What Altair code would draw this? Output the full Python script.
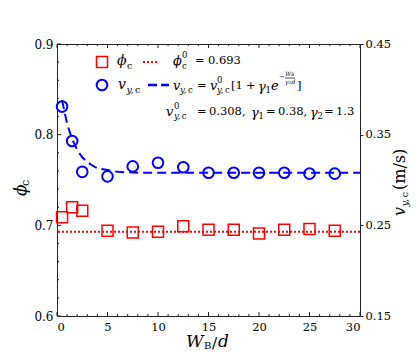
import altair as alt
import pandas as pd

# ---------------- data ----------------
W_over_d = [0.5, 1.5, 2.5, 5, 7.5, 10, 12.5, 15, 17.5, 20, 22.5, 25, 27.5]
phi_c = [0.709, 0.720, 0.716, 0.694, 0.692, 0.693, 0.699, 0.695, 0.695, 0.691, 0.695, 0.696, 0.694]
v_yc = [0.381, 0.343, 0.309, 0.304, 0.315, 0.319, 0.314, 0.308, 0.308, 0.308, 0.308, 0.307, 0.307]
fit_W = [0.5, 1, 1.5, 2, 2.5, 3, 3.5, 4, 5, 6, 8, 10, 15, 20, 25, 30]
fit_v = [0.388, 0.362, 0.345, 0.333, 0.325, 0.320, 0.316, 0.313, 0.311, 0.309, 0.308, 0.308,
         0.308, 0.308, 0.308, 0.308]
phi_c0 = 0.693

x_major = [0, 5, 10, 15, 20, 25, 30]
x_minor = [i for i in range(0, 31) if i % 5 != 0]
left_major = [0.6, 0.7, 0.8, 0.9]
left_minor = [round(0.6 + 0.02 * i, 2) for i in range(16) if i % 5 != 0]
right_ticks = [0.15, 0.25, 0.35, 0.45]

# ---------------- style ----------------
SERIF = "DejaVu Serif"
AX = "#222222"
RED = "#ff0000"
BLUE = "#0000ff"
PW, PH = 303, 272
OX, OY = 57, 44  # absolute page position of the plot origin
NUM = 11.5       # legend number size
SYM = 13         # legend math-symbol size
SUB = 8.5        # legend script size

xs = alt.Scale(domain=[0, 30], nice=False, zero=False)
ls = alt.Scale(domain=[0.6, 0.9], nice=False, zero=False)
rs = alt.Scale(domain=[0.15, 0.45], nice=False, zero=False)

main = pd.DataFrame({"W": W_over_d, "phi": phi_c, "v": v_yc})
fit = pd.DataFrame({"W": fit_W, "v": fit_v})
ONE = pd.DataFrame({"k": [0]})

x_axis = alt.Axis(values=x_major, format="d", ticks=False, domain=False, grid=False,
                  labelFont=SERIF, labelFontSize=11.5, labelPadding=5, labelColor="black",
                  title=None)
left_axis = alt.Axis(orient="left", values=left_major, format=".1f", ticks=False,
                     domain=False, grid=False, labelFont=SERIF, labelFontSize=12,
                     labelPadding=4, labelColor="black", title=None)
right_axis = alt.Axis(orient="right", values=right_ticks, format=".2f", ticks=True,
                      tickSize=3, tickColor=AX, domain=False, grid=False,
                      labelFont=SERIF, labelFontSize=11.5, labelPadding=2,
                      labelColor="black", title=None)

squares = alt.Chart(main).mark_point(
    shape="square", size=121, strokeWidth=1.5, color=RED, filled=False, opacity=1
).encode(
    x=alt.X("W:Q", scale=xs, axis=x_axis),
    y=alt.Y("phi:Q", scale=ls, axis=left_axis),
)

phi0_rule = alt.Chart(pd.DataFrame({"y": [phi_c0]})).mark_rule(
    color=RED, strokeDash=[2, 2], strokeWidth=2
).encode(y=alt.Y("y:Q", scale=ls, axis=left_axis))

left_major_ticks = alt.Chart(pd.DataFrame({"t": left_major})).mark_rule(
    color=AX, strokeWidth=1).encode(y=alt.Y("t:Q", scale=ls, axis=left_axis),
                                    x=alt.value(0), x2=alt.value(4))
left_minor_ticks = alt.Chart(pd.DataFrame({"t": left_minor})).mark_rule(
    color=AX, strokeWidth=1).encode(y=alt.Y("t:Q", scale=ls, axis=left_axis),
                                    x=alt.value(0), x2=alt.value(2))


def xticks(vals, y0, y1):
    return alt.Chart(pd.DataFrame({"t": vals})).mark_rule(color=AX, strokeWidth=1).encode(
        x=alt.X("t:Q", scale=xs, axis=x_axis), y=alt.value(y0), y2=alt.value(y1))


left = alt.layer(phi0_rule, squares, left_major_ticks, left_minor_ticks,
                 xticks(x_major, PH, PH - 4), xticks(x_minor, PH, PH - 2),
                 xticks(x_major, 0, 4), xticks(x_minor, 0, 2))

fitline = alt.Chart(fit).mark_line(color=BLUE, strokeDash=[9, 5], strokeWidth=2).encode(
    x=alt.X("W:Q", scale=xs, axis=x_axis),
    y=alt.Y("v:Q", scale=rs, axis=right_axis),
)
circles = alt.Chart(main).mark_point(
    shape="circle", size=113, strokeWidth=2, color=BLUE, filled=False, opacity=1
).encode(x=alt.X("W:Q", scale=xs, axis=x_axis), y=alt.Y("v:Q", scale=rs, axis=right_axis))

right = alt.layer(fitline, circles)


# ---------------- text helpers (absolute page coordinates) ----------------
def T(s, x, y, size=14, italic=False, color="black", angle=0):
    return alt.Chart(ONE).mark_text(
        text=s, font=SERIF, fontSize=size, fontStyle="italic" if italic else "normal",
        align="left", baseline="middle", color=color, angle=angle
    ).encode(x=alt.value(x - OX), y=alt.value(y - OY))


def hline(x0, x1, y, color, dash, width):
    return alt.Chart(ONE).mark_rule(color=color, strokeDash=dash, strokeWidth=width).encode(
        x=alt.value(x0 - OX), x2=alt.value(x1 - OX), y=alt.value(y - OY))


def marker(shape, x, y, color, size, sw):
    return alt.Chart(ONE).mark_point(shape=shape, size=size, strokeWidth=sw, color=color,
                                     filled=False, opacity=1).encode(
        x=alt.value(x - OX), y=alt.value(y - OY))


ann = []
# legend row 1
ann += [marker("square", 102, 62, RED, 121, 1.5),
        T("ϕ", 117, 61, 14, True), T("c", 127, 66, 9.5),
        hline(143, 158, 62, RED, [2, 2], 2),
        T("ϕ", 173, 61, SYM, True), T("0", 182, 55, SUB), T("c", 182, 66, SUB),
        T("=", 195, 61, NUM), T("0.693", 208, 61, NUM)]
# legend row 2
ann += [marker("circle", 102, 85, BLUE, 113, 2),
        T("v", 118, 85, 14, True), T("y,", 126.5, 90, 9.5, True), T("c", 135, 90, 9.5),
        hline(148, 169, 85, BLUE, [9, 4], 2.5),
        T("v", 173, 86, SYM, True), T("y,", 180, 90, SUB, True), T("c", 188, 90, SUB),
        T("=", 197, 86, NUM),
        T("v", 210, 86, SYM, True), T("0", 217, 80, SUB), T("y,", 217, 90, SUB, True),
        T("c", 225, 90, SUB),
        T("[1", 231, 86, NUM), T("+", 246, 86, NUM),
        T("γ", 258, 87, SYM, True), T("1", 265.5, 90, SUB),
        T("e", 271, 86, SYM, True),
        T("−", 279, 77, 7),
        T("W", 285, 74, 6, True), T("B", 291, 75, 4.5),
        hline(285, 295, 78, "black", [1, 0], 0.7),
        T("γ", 285, 82, 6, True), T("2", 288.6, 83, 4.5), T("d", 291.5, 82, 6, True),
        T("]", 297, 86, NUM)]
# legend row 3
ann += [T("v", 166, 112, SYM, True), T("0", 174, 106, SUB), T("y,", 174, 116, SUB, True),
        T("c", 181.7, 116, SUB),
        T("=", 197, 112, NUM), T("0.308,", 209, 112, NUM),
        T("γ", 251, 113, SYM, True), T("1", 258.5, 116, SUB),
        T("=", 266, 112, NUM), T("0.38,", 278, 112, NUM),
        T("γ", 310, 113, SYM, True), T("2", 317.5, 116, SUB),
        T("=", 324, 112, NUM), T("1.3", 336, 112, NUM)]
# axis titles
ann += [T("ϕ", 21, 196, 17, True, angle=270), T("c", 26, 186, 11, angle=270)]
ann += [T("v", 400, 216, 16, True, angle=270), T("y,", 405, 206.5, 10, True, angle=270),
        T("c", 405, 197.5, 10, angle=270), T("(m/s)", 400, 190, 16, angle=270)]
ann += [T("W", 186, 342, 17, True), T("B", 204, 346, 10), T("/", 212, 343, 15.5),
        T("d", 218, 342, 17, True)]

chart = alt.layer(left, right, *ann).resolve_scale(y="independent").properties(
    width=PW, height=PH,
    autosize=alt.AutoSizeParams(type="none"),
    padding={"left": OX - 8, "top": OY - 8, "right": 419 - 16 - (OX - 8) - PW, "bottom": 36},
).configure_view(stroke=AX, strokeWidth=1)

chart.save("out.html", embed_options={"renderer": "svg", "actions": False})
